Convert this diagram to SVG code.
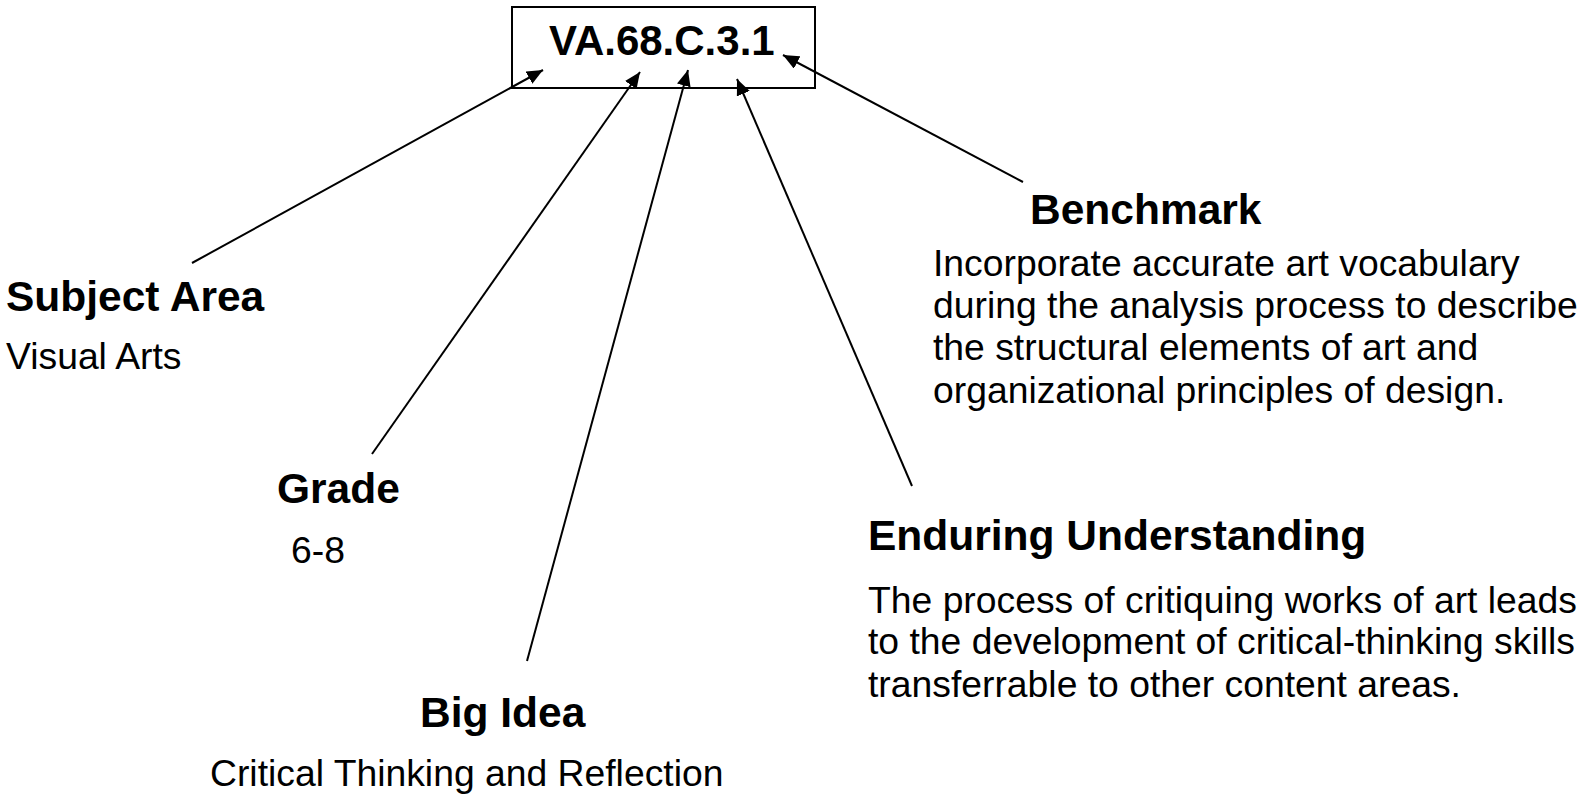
<svg xmlns="http://www.w3.org/2000/svg" width="1583" height="797" viewBox="0 0 1583 797">
<style>
.b{font-family:"Liberation Sans",Arial,sans-serif;font-weight:bold;font-size:42.5px;fill:#000}
.r{font-family:"Liberation Sans",Arial,sans-serif;font-size:37.3px;fill:#000}
.c{stroke:#000;stroke-width:2;fill:none;marker-end:url(#ah)}
</style>
<defs>
<marker id="ah" markerUnits="userSpaceOnUse" markerWidth="18" markerHeight="14" refX="16" refY="7" orient="auto">
<path d="M0,0 L16,7 L0,14 Z" fill="#000"/>
</marker>
</defs>
<rect width="1583" height="797" fill="#fff"/>
<g id="code">
<rect x="512" y="7" width="303" height="81" fill="none" stroke="#000" stroke-width="2"/>
<text class="b" x="549" y="55" style="font-size:42px">VA.68.C.3.1</text>
</g>
<g id="connectors">
<line class="c" x1="192" y1="263" x2="543" y2="70"/>
<line class="c" x1="372" y1="454" x2="640" y2="72"/>
<line class="c" x1="527" y1="661" x2="688" y2="70"/>
<line class="c" x1="912" y1="486" x2="737" y2="79"/>
<line class="c" x1="1023" y1="182" x2="783" y2="55"/>
</g>
<g id="subject">
<text class="b" x="6" y="311">Subject Area</text>
<text class="r" x="6" y="369">Visual Arts</text>
</g>
<g id="grade">
<text class="b" x="277" y="503">Grade</text>
<text class="r" x="291" y="563">6-8</text>
</g>
<g id="bigidea">
<text class="b" x="420" y="727">Big Idea</text>
<text class="r" x="210" y="786">Critical Thinking and Reflection</text>
</g>
<g id="benchmark">
<text class="b" x="1030" y="224">Benchmark</text>
<text class="r" x="933" y="276">Incorporate accurate art vocabulary</text>
<text class="r" x="933" y="318">during the analysis process to describe</text>
<text class="r" x="933" y="360">the structural elements of art and</text>
<text class="r" x="933" y="403">organizational principles of design.</text>
</g>
<g id="enduring">
<text class="b" x="868" y="550">Enduring Understanding</text>
<text class="r" x="868" y="613">The process of critiquing works of art leads</text>
<text class="r" x="868" y="654">to the development of critical-thinking skills</text>
<text class="r" x="868" y="697">transferrable to other content areas.</text>
</g>
</svg>
